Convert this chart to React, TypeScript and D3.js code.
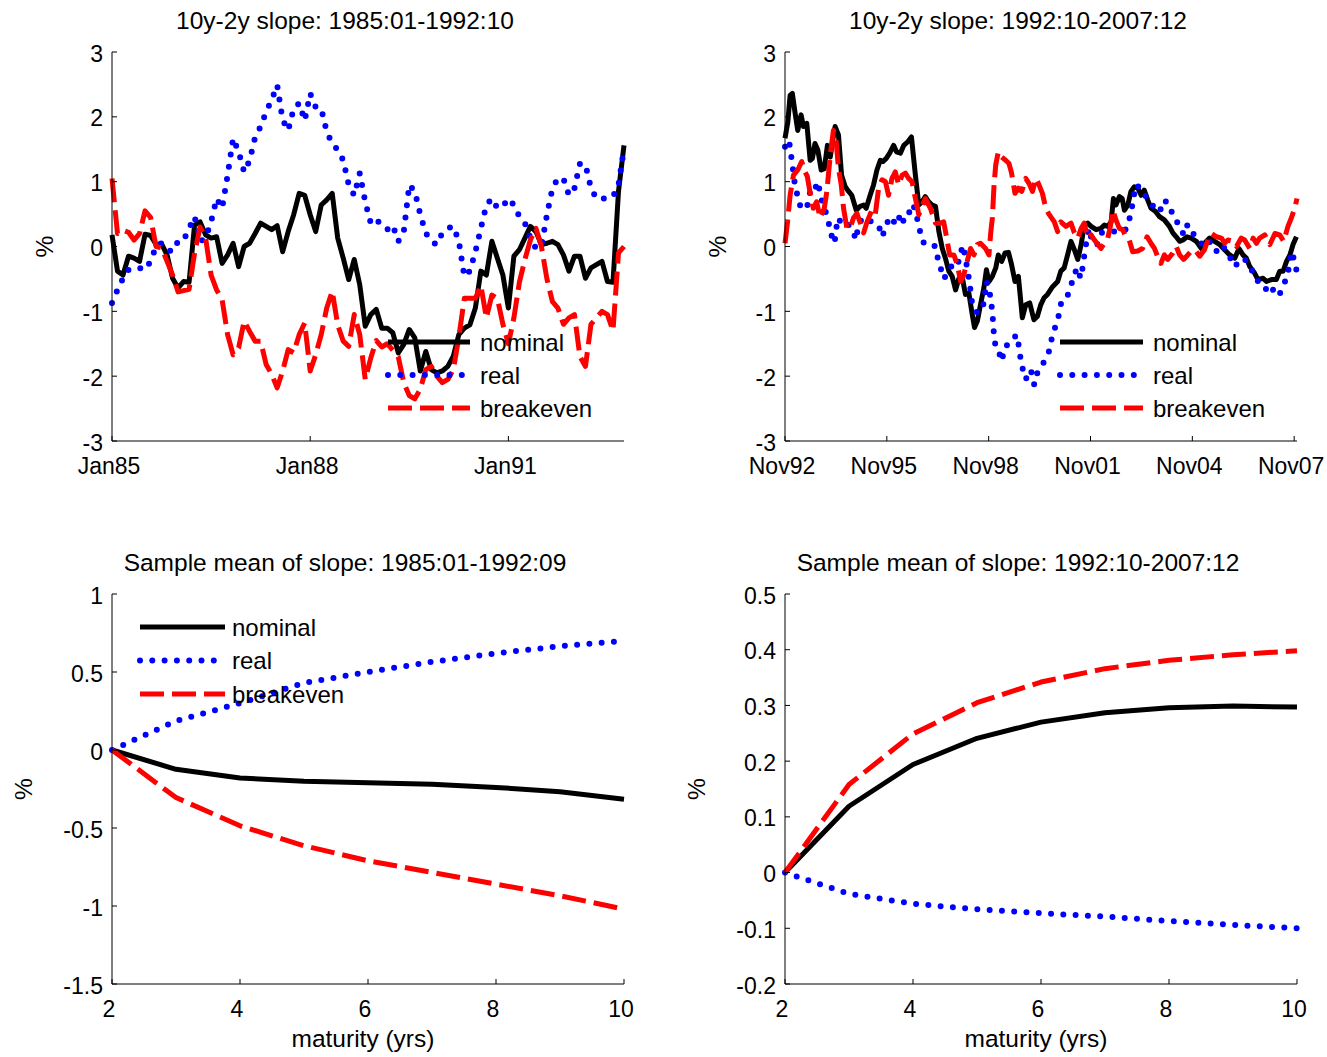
import React from "react";
import * as d3 from "d3";

const W = 1327,
  H = 1057;
const FONT = "'Liberation Sans', Arial, Helvetica, sans-serif";
const TICK_FS = 23;
const TEXT_FS = 24.5;

// ---- 10y-2y slope, monthly Jan85 .. Oct92 (index = months since Jan85)
const nominal8592 = [
  0.18, -0.38, -0.44, -0.15, -0.18, -0.23, 0.19, 0.17, 0.03, 0.04, -0.13, -0.49,
  -0.64, -0.54, -0.55, 0.33, 0.38, 0.18, 0.13, 0.15, -0.26, -0.13, 0.05, -0.31,
  0, 0.05, 0.2, 0.36, 0.31, 0.26, 0.32, -0.08, 0.23, 0.49, 0.82, 0.79,
  0.49, 0.23, 0.64, 0.72, 0.82, 0.13, -0.18, -0.51, -0.2, -0.59, -1.23, -1.05,
  -0.97, -1.26, -1.26, -1.33, -1.64, -1.51, -1.28, -1.41, -1.92, -1.62, -1.9, -1.95,
  -1.92, -1.85, -1.69, -1.36, -1.26, -1.21, -0.95, -0.38, -0.44, 0.08, -0.18, -0.44,
  -0.95, -0.15, -0.05, 0.13, 0.31, 0.23, 0.03, 0.05, 0.08, 0.03, -0.13, -0.38,
  -0.15, -0.15, -0.49, -0.33, -0.28, -0.23, -0.54, -0.55, 0.85, 1.56,
];
const real8592 = [
  -0.87, -0.67, -0.49, -0.36, -0.33, -0.33, -0.36, -0.23, 0, 0.05, -0.05, -0.08,
  0.08, 0.09, 0.28, 0.46, 0.08, 0.13, 0.38, 0.74, 0.59, 1.1, 1.67, 1.46,
  1.15, 1.33, 1.69, 1.85, 2.08, 2.26, 2.49, 1.95, 1.79, 2.13, 2.21, 1.94,
  2.36, 2.15, 2.13, 1.77, 1.59, 1.49, 1.33, 0.95, 0.79, 1.13, 0.69, 0.36,
  0.42, 0.32, 0.26, 0.33, 0.08, 0.23, 0.95, 0.85, 0.49, 0.21, 0.08, 0.03,
  0.21, 0.28, 0.31, 0.08, -0.46, -0.38, -0.08, 0.28, 0.64, 0.74, 0.59, 0.62,
  0.74, 0.64, 0.46, 0.36, 0.13, -0.03, 0, 0.49, 0.9, 1.05, 1.05, 0.79,
  0.9, 1.28, 1.26, 0.9, 0.74, 0.74, 0.74, 0.77, 0.95, 1.51,
];
const breakeven8592 = [
  1.05, 0.2, 0.25, 0.22, 0.1, 0.2, 0.55, 0.45, 0, -0.02, -0.23, -0.44,
  -0.7, -0.68, -0.66, -0.1, 0.3, 0.13, -0.44, -0.67, -0.82, -1.36, -1.67, -1.56,
  -1.15, -1.31, -1.46, -1.46, -1.82, -1.97, -2.18, -1.92, -1.59, -1.64, -1.36, -1.18,
  -1.92, -1.67, -1.36, -0.95, -0.69, -1.21, -1.46, -1.54, -1.05, -1.36, -2.05, -1.72,
  -1.45, -1.55, -1.5, -1.6, -1.7, -2.1, -2.3, -2.35, -2.2, -1.9, -1.85, -2.0,
  -2.1, -2.05, -1.9, -1.4, -0.8, -0.8, -0.8, -0.6, -1.1, -0.75, -0.8, -1.2,
  -1.5, -1.1, -0.55, -0.2, 0.1, 0.28, 0, -0.5, -0.85, -0.95, -1.2, -1.1,
  -1.05, -1.7, -1.85, -1.2, -1.1, -1.0, -1.05, -1.3, -0.1, 0.0,
];
const xTicks8592 = [0, 36, 72];
const xLabels8592 = ["Jan85", "Jan88", "Jan91"];

// ---- 10y-2y slope Nov92 .. Dec07, [months since Nov92, value]
const nominal9207: [number, number][] = [
  [0, 1.67], [1, 1.92], [1.8, 2.33], [2.6, 2.36], [3.5, 2.08], [4.5, 1.79], [5.7, 2.03],
  [6.5, 1.85], [7.7, 1.9], [8.9, 1.33], [9.7, 1.36], [10.6, 1.59], [11.6, 1.49], [12.8, 1.18],
  [13.9, 1.2], [15, 1.56], [16, 1.38], [16.8, 1.62], [17.7, 1.85], [18.9, 1.72], [20, 1.1],
  [21.3, 0.92], [22.5, 0.85], [23.6, 0.79], [25.2, 0.56], [26.6, 0.62], [27.8, 0.64], [28.7, 0.59],
  [30.1, 0.79], [31.3, 0.95], [32.5, 1.18], [33.7, 1.33], [34.6, 1.31], [35.8, 1.36], [37, 1.44],
  [38.4, 1.56], [39.4, 1.46], [40.8, 1.44], [42, 1.56], [43.5, 1.62], [44.7, 1.69], [46.1, 1.1],
  [47.3, 0.64], [48.5, 0.69], [49.6, 0.77], [50.8, 0.69], [52, 0.64], [53.2, 0.62], [54.4, 0.23],
  [55.6, -0.03], [56.7, -0.18], [57.9, -0.38], [59.1, -0.46], [60.3, -0.67], [61.5, -0.49], [62.6, -0.46],
  [63.8, -0.74], [65, -0.72], [66.2, -1.05], [67, -1.25], [68, -1.15], [69.1, -0.9], [70.3, -0.64],
  [71.2, -0.36], [72.1, -0.54], [73.3, -0.46], [74.5, -0.33], [75.4, -0.13], [76.6, -0.23], [77.8, -0.1],
  [79, -0.09], [80.1, -0.28], [81.3, -0.54], [82.5, -0.46], [83.9, -1.1], [85.1, -0.9], [86.5, -0.87],
  [88, -1.13], [89.2, -1.08], [90.4, -0.9], [91.6, -0.79], [92.8, -0.74], [94.6, -0.62], [96.4, -0.54],
  [97.5, -0.38], [98.7, -0.33], [99.9, -0.13], [101.1, 0.08], [102.3, -0.05], [103.5, -0.2], [104.7, 0.03],
  [105.8, 0.33], [107, 0.36], [108.2, 0.31], [110, 0.26], [111.7, 0.28], [112.9, 0.33], [114.1, 0.31],
  [115.3, 0.38], [116.1, 0.74], [117, 0.64], [118.2, 0.77], [119.2, 0.74], [120, 0.56], [121.2, 0.64],
  [122.3, 0.85], [123.5, 0.92], [124.7, 0.9], [125.9, 0.79], [127, 0.87], [128.2, 0.72], [129.4, 0.59],
  [131, 0.54], [132.4, 0.46], [134.1, 0.41], [135.9, 0.31], [137.1, 0.21], [138.3, 0.15], [139.5, 0.08],
  [140.7, 0.1], [142.1, 0.15], [143.6, 0.13], [145.4, 0.08], [147.2, -0.03], [148.3, 0.05], [150.1, 0.13],
  [151.9, 0.08], [153.7, 0.03], [155.4, -0.05], [157.2, -0.13], [159, -0.18], [160.5, -0.03], [161.9, -0.13],
  [163.1, -0.18], [164.3, -0.31], [166, -0.41], [167.2, -0.51], [169, -0.49], [170.2, -0.54], [172, -0.51],
  [173.7, -0.51], [174.9, -0.38], [176.1, -0.38], [177.3, -0.23], [178.5, -0.13], [179.6, 0.03], [180.8, 0.15],
];
const real9207: [number, number][] = [
  [0, 1.54], [1.4, 1.64], [2.4, 1.33], [3, 1.13], [3.5, 0.95], [4.5, 0.77], [5.6, 0.59], [7.7, 0.59],
  [8.9, 0.85], [10, 0.82], [11.6, 1.0], [12.8, 0.74], [14.2, 0.56], [15.4, 0.38], [16, 0.22], [17.5, 0.05],
  [18.6, 0.44], [20.1, 0.36], [21.3, 0.39], [22.5, 0.33], [24.2, 0.23], [25, 0.1], [25.8, 0.28], [27.2, 0.44],
  [28.6, 0.43], [30.7, 0.38], [33.1, 0.33], [34.3, 0.15], [35.5, 0.28], [36.9, 0.46], [39.6, 0.33], [40.8, 0.51],
  [42, 0.38], [43.7, 0.49], [44.7, 0.65], [45.9, 0.59], [47.6, 0.26], [48.5, 0.08], [50.2, 0.02], [52, 0.03],
  [53.2, 0], [54, -0.18], [55.2, -0.36], [56.1, -0.5], [57.9, -0.38], [59.1, -0.28], [60.9, -0.31], [62.1, -0.1],
  [62.9, 0.02], [63.8, -0.18], [65.2, -0.54], [66.2, -0.9], [68, -1.03], [70, -0.92], [70.7, -0.74], [71.2, -0.54],
  [72.1, -0.62], [72.7, -0.82], [73.3, -1.0], [73.6, -1.2], [73.9, -1.38], [74.5, -1.56], [75.4, -1.59], [76.6, -1.77],
  [77.8, -1.54], [79.8, -1.49], [81.8, -1.36], [82.7, -1.54], [83.3, -1.74], [84.2, -1.92], [85.1, -2.05], [86.9, -1.9],
  [88.1, -2.13], [89.2, -1.95], [90.8, -1.85], [92.1, -1.72], [93.3, -1.62], [94.2, -1.44], [95.4, -1.26], [96.6, -1.1],
  [97.4, -0.9], [98.6, -0.79], [99.8, -0.77], [101, -0.62], [102.2, -0.44], [103.3, -0.33], [104.5, -0.49], [105.4, -0.28],
  [106.1, -0.03], [106.9, 0.13], [107.5, 0.28], [108.7, 0.05], [110.4, 0.03], [112, 0.21], [114, 0.23], [116.3, 0.23],
  [118.7, 0.28], [120.5, 0.26], [121.7, 0.41], [122.8, 0.64], [124, 0.95], [125.8, 0.9], [127.6, 0.77], [129.3, 0.69],
  [130.5, 0.59], [132.3, 0.53], [134.4, 0.72], [135.8, 0.56], [137.6, 0.51], [139.4, 0.28], [141.2, 0.18], [142.3, 0.34],
  [144.1, 0.21], [146.5, 0.08], [148.2, 0], [150, 0.08], [152.4, -0.08], [154.2, 0.03], [155.9, -0.05], [157.1, -0.15],
  [158.9, -0.31], [160.6, -0.23], [162.4, -0.18], [164.2, -0.33], [166, -0.41], [167.7, -0.59], [169.5, -0.62], [171.3, -0.74],
  [173, -0.64], [174.8, -0.74], [176.6, -0.56], [177.8, -0.41], [179, -0.08], [180.2, -0.23], [181, -0.41],
];
const breakeven9207: [number, number][] = [
  [0, 0.05], [0.9, 0.38], [1.8, 0.79], [3, 1.1], [4.5, 1.18], [5.9, 1.31], [7.1, 1.15], [7.9, 1.08],
  [8.9, 0.82], [10, 0.59], [11.2, 0.69], [12.4, 0.44], [13.9, 0.59], [14.8, 0.85], [16, 1.41], [17.1, 1.79],
  [18.1, 1.62], [18.9, 1.2], [19.9, 0.95], [20.7, 0.59], [21.9, 0.28], [23, 0.28], [24.2, 0.44], [25.4, 0.51],
  [26.9, 0.33], [27.8, 0.21], [29, 0.38], [30.7, 0.56], [31.9, 0.49], [33.1, 0.9], [34.3, 1.03], [35.5, 1.0],
  [36.6, 0.79], [37.8, 1.05], [39, 1.15], [40.2, 0.95], [41.4, 1.1], [42.6, 1.13], [43.7, 1.05], [44.9, 1.0],
  [46.1, 0.74], [47.3, 0.49], [48.5, 0.62], [49.6, 0.74], [51.4, 0.59], [53.2, 0.36], [54.9, 0.36], [56.1, 0.38],
  [57.3, 0.1], [58.2, -0.13], [59.7, -0.13], [60.9, -0.28], [62.1, -0.54], [63.2, -0.44], [64.4, -0.23], [65.6, -0.03],
  [66.8, -0.13], [68, 0.03], [69.1, 0.05], [70.9, -0.03], [72.1, -0.13], [72.7, 0.2], [73.3, 0.44], [73.9, 0.95],
  [74.5, 1.26], [75.4, 1.46], [76.6, 1.38], [78, 1.33], [79.2, 1.28], [80.1, 1.13], [81.3, 0.82], [82.5, 0.9],
  [83.7, 0.85], [85.1, 1.05], [86.3, 0.97], [87.5, 0.85], [88.7, 1.05], [89.8, 0.95], [91, 0.82], [92.2, 0.59],
  [93.3, 0.5], [95.2, 0.38], [96.4, 0.23], [97.5, 0.38], [99.3, 0.31], [101.1, 0.36], [102.3, 0.21], [103.5, 0.13],
  [104.7, 0.28], [105.8, 0.36], [107, 0.13], [108.2, 0.18], [109.4, 0.1], [110.6, 0.03], [111.7, -0.03], [112.9, 0.05],
  [114.1, 0.13], [114.9, 0.28], [115.9, 0.56], [117, 0.41], [118.2, 0.28], [119.4, 0.26], [120.5, 0.15], [121.7, 0.1],
  [122.9, -0.08], [124.7, -0.07], [126.4, -0.03], [128, 0.15], [129.4, 0.05], [130.6, -0.03], [131.7, -0.15], [132.9, -0.26],
  [134.1, -0.13], [135.3, -0.2], [137.1, -0.1], [138.3, 0], [139.5, -0.13], [140.9, -0.2], [142.4, -0.13], [144, -0.05],
  [145.4, -0.08], [146.6, -0.15], [148.3, -0.05], [149.5, 0.1], [150.7, 0.2], [152.5, 0.15], [154.3, 0.13], [155.4, 0.05],
  [156.6, 0.1], [158.4, 0.08], [159.6, 0], [161.3, 0.13], [162.5, 0.1], [164.3, -0.03], [165.5, 0.13], [166.7, 0.05],
  [167.8, 0.13], [169.6, 0.18], [171.4, 0.03], [173.2, 0.2], [174.9, 0.18], [176.3, 0.08], [177.8, 0.31], [179, 0.44],
  [180.2, 0.59], [181, 0.74],
];
const xTicks9207 = [0, 36, 72, 108, 144, 180];
const xLabels9207 = ["Nov92", "Nov95", "Nov98", "Nov01", "Nov04", "Nov07"];

const slopeTicks = [-3, -2, -1, 0, 1, 2, 3];

// ---- sample means by maturity
const maturities = [2, 3, 4, 5, 6, 7, 8, 9, 10];
const meanNominal8592 = [0, -0.124, -0.18, -0.2, -0.21, -0.22, -0.24, -0.267, -0.316];
const meanReal8592 = [0, 0.186, 0.3, 0.43, 0.5, 0.565, 0.62, 0.665, 0.7];
const meanBreakeven8592 = [0, -0.305, -0.486, -0.614, -0.71, -0.785, -0.86, -0.934, -1.02];
const meanNominal9207 = [0, 0.119, 0.194, 0.241, 0.27, 0.287, 0.296, 0.299, 0.297];
const meanReal9207 = [0, -0.038, -0.056, -0.066, -0.073, -0.079, -0.087, -0.094, -0.1];
const meanBreakeven9207 = [0, 0.158, 0.249, 0.305, 0.342, 0.366, 0.381, 0.391, 0.398];
const matTicks = [2, 4, 6, 8, 10];
const meanTicks8592 = [-1.5, -1, -0.5, 0, 0.5, 1];
const meanTicks9207 = [-0.2, -0.1, 0, 0.1, 0.2, 0.3, 0.4, 0.5];

const seriesNames = ["nominal", "real", "breakeven"];

const STYLE: Record<string, any> = {
  nominal: { stroke: "#000000", width: 5, dash: undefined, cap: "butt" },
  real: { stroke: "#0000ff", width: 6, dash: "0 12.3", cap: "round" },
  breakeven: { stroke: "#ff0000", width: 5, dash: "24 8", cap: "butt" },
};

const idx = (arr: number[]) => arr.map((v, i) => [i, v] as [number, number]);
const zipMat = (arr: number[]) => arr.map((v, i) => [maturities[i], v] as [number, number]);

type PanelProps = {
  left: number;
  right: number;
  top: number;
  bottom: number;
  xDomain: [number, number];
  yDomain: [number, number];
  xTicks: number[];
  xTickLabels: string[];
  yTicks: number[];
  title: string;
  xLabel?: string;
  series: [number, number][][];
  legend?: { x1: number; x2: number; tx: number; y: number; dy: number };
};

const Panel = (p: PanelProps) => {
  const x = d3.scaleLinear().domain(p.xDomain).range([p.left, p.right]);
  const y = d3.scaleLinear().domain(p.yDomain).range([p.bottom, p.top]);
  const line = d3
    .line<[number, number]>()
    .x((d) => x(d[0]))
    .y((d) => y(d[1]));
  const cx = (p.left + p.right) / 2;
  const cy = (p.top + p.bottom) / 2;
  // "%" glyph centre sits further out when tick labels are wide
  const yLabelCenter = p.left - (p.yTicks.some((t) => String(t).length > 2) ? 88 : 67);

  return (
    <g fontFamily={FONT} fontSize={TICK_FS} fill="#000">
      {p.series.map((pts, i) => {
        const s = STYLE[seriesNames[i]];
        return (
          <path
            key={i}
            d={line(pts) || ""}
            fill="none"
            stroke={s.stroke}
            strokeWidth={s.width}
            strokeDasharray={s.dash}
            strokeLinecap={s.cap}
            strokeLinejoin="round"
          />
        );
      })}
      {/* axes */}
      <line x1={p.left} x2={p.left} y1={p.top} y2={p.bottom} stroke="#000" strokeWidth={1} />
      <line x1={p.left} x2={p.right} y1={p.bottom} y2={p.bottom} stroke="#000" strokeWidth={1} />
      {p.yTicks.map((t) => (
        <g key={"y" + t}>
          <line x1={p.left} x2={p.left + 5} y1={y(t)} y2={y(t)} stroke="#000" strokeWidth={1} />
          <text x={p.left - 9} y={y(t) + 9.5} textAnchor="end">
            {String(t)}
          </text>
        </g>
      ))}
      {p.xTicks.map((t, i) => (
        <g key={"x" + t}>
          <line x1={x(t)} x2={x(t)} y1={p.bottom} y2={p.bottom - 5} stroke="#000" strokeWidth={1} />
          <text x={x(t) - 3} y={p.bottom + 33} textAnchor="middle">
            {p.xTickLabels[i]}
          </text>
        </g>
      ))}
      <text x={cx - 23} y={p.top - 23} textAnchor="middle" fontSize={TEXT_FS}>
        {p.title}
      </text>
      {p.xLabel && (
        <text x={cx - 5} y={p.bottom + 63} textAnchor="middle" fontSize={TEXT_FS}>
          {p.xLabel}
        </text>
      )}
      <text
        transform={`translate(${yLabelCenter + 8},${cy}) rotate(-90)`}
        textAnchor="middle"
        fontSize={TEXT_FS}
      >
        %
      </text>
      {p.legend &&
        seriesNames.map((n, i) => {
          const s = STYLE[n];
          const ly = p.legend!.y + i * p.legend!.dy;
          return (
            <g key={n}>
              <line
                x1={p.legend!.x1}
                x2={p.legend!.x2}
                y1={ly}
                y2={ly}
                stroke={s.stroke}
                strokeWidth={s.width}
                strokeDasharray={s.dash}
                strokeLinecap={s.cap}
              />
              <text x={p.legend!.tx} y={ly + 8.5} fontSize={24}>
                {n}
              </text>
            </g>
          );
        })}
    </g>
  );
};

export default function App() {
  return (
    <svg
      width={W}
      height={H}
      style={{ position: "absolute", left: 0, top: 0, background: "#fff" }}
    >
      <rect width={W} height={H} fill="#fff" />
      <Panel
        left={112}
        right={624}
        top={52}
        bottom={441}
        xDomain={[0, 93]}
        yDomain={[-3, 3]}
        xTicks={xTicks8592}
        xTickLabels={xLabels8592}
        yTicks={slopeTicks}
        title="10y-2y slope: 1985:01-1992:10"
        series={[idx(nominal8592), idx(real8592), idx(breakeven8592)]}
        legend={{ x1: 388, x2: 470, tx: 480, y: 342, dy: 33 }}
      />
      <Panel
        left={785}
        right={1297}
        top={52}
        bottom={441}
        xDomain={[0, 181]}
        yDomain={[-3, 3]}
        xTicks={xTicks9207}
        xTickLabels={xLabels9207}
        yTicks={slopeTicks}
        title="10y-2y slope: 1992:10-2007:12"
        series={[nominal9207, real9207, breakeven9207]}
        legend={{ x1: 1060, x2: 1143, tx: 1153, y: 342, dy: 33 }}
      />
      <Panel
        left={112}
        right={624}
        top={594}
        bottom={984}
        xDomain={[2, 10]}
        yDomain={[-1.5, 1]}
        xTicks={matTicks}
        xTickLabels={matTicks.map(String)}
        yTicks={meanTicks8592}
        title="Sample mean of slope: 1985:01-1992:09"
        xLabel="maturity (yrs)"
        series={[zipMat(meanNominal8592), zipMat(meanReal8592), zipMat(meanBreakeven8592)]}
        legend={{ x1: 140, x2: 225, tx: 232, y: 627, dy: 33.5 }}
      />
      <Panel
        left={785}
        right={1297}
        top={594}
        bottom={984}
        xDomain={[2, 10]}
        yDomain={[-0.2, 0.5]}
        xTicks={matTicks}
        xTickLabels={matTicks.map(String)}
        yTicks={meanTicks9207}
        title="Sample mean of slope: 1992:10-2007:12"
        xLabel="maturity (yrs)"
        series={[zipMat(meanNominal9207), zipMat(meanReal9207), zipMat(meanBreakeven9207)]}
      />
    </svg>
  );
}
